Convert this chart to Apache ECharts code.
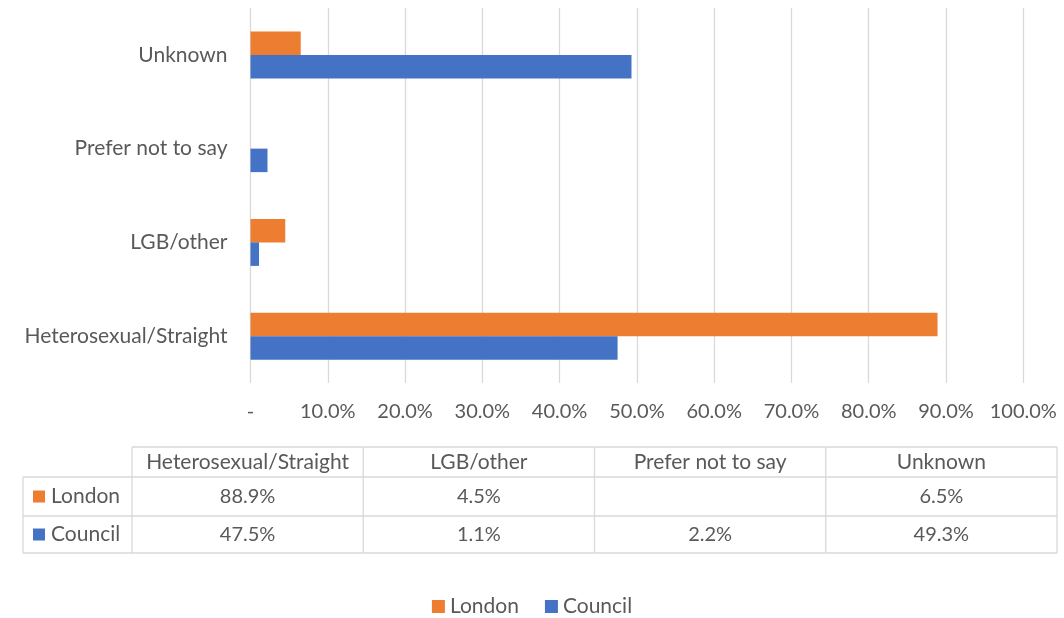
<!DOCTYPE html>
<html>
<head>
<meta charset="utf-8">
<script src="https://cdn.jsdelivr.net/npm/echarts@6/dist/echarts.min.js"></script>
<style>
html,body{margin:0;padding:0;background:#fff;}
#chart{width:1064px;height:618px;}
</style>
</head>
<body>
<div id="chart"></div>
<script>
var categories = ['Heterosexual/Straight', 'LGB/other', 'Prefer not to say', 'Unknown'];
var seriesNames = ['London', 'Council'];
var londonValues = [88.9, 4.5, null, 6.5];
var councilValues = [47.5, 1.1, 2.2, 49.3];
var tickValues = [0, 10, 20, 30, 40, 50, 60, 70, 80, 90, 100];
var colors = ['#ED7D31', '#4472C4'];

var FONT = 'Lato';
var TXT = '#595959';
var LINE = '#D9D9D9';
var FS = 21;
var FS_NUM = 20;

var chart = echarts.init(document.getElementById('chart'));

function fmt(v) { return v == null ? '' : v.toFixed(1) + '%'; }

// table layout
var tblLeft = 23, colStart = 132, tblRight = 1057;
var rowTops = [447, 477, 516, 553];
function buildTable() {
  var g = [];
  var nCol = categories.length;
  var colW = (tblRight - colStart) / nCol;
  var rows = [londonValues, councilValues];
  var ls = { stroke: LINE, lineWidth: 1.3 };
  g.push({ type: 'line', shape: { x1: colStart, y1: rowTops[0], x2: tblRight, y2: rowTops[0] }, style: ls });
  for (var r = 1; r < rowTops.length; r++) {
    g.push({ type: 'line', shape: { x1: tblLeft, y1: rowTops[r], x2: tblRight, y2: rowTops[r] }, style: ls });
  }
  g.push({ type: 'line', shape: { x1: tblLeft, y1: rowTops[1], x2: tblLeft, y2: rowTops[3] }, style: ls });
  for (var c = 0; c <= nCol; c++) {
    var x = colStart + c * colW;
    g.push({ type: 'line', shape: { x1: x, y1: rowTops[0], x2: x, y2: rowTops[3] }, style: ls });
  }
  for (var c2 = 0; c2 < nCol; c2++) {
    g.push({ type: 'text', x: colStart + (c2 + 0.5) * colW, y: (rowTops[0] + rowTops[1]) / 2,
      style: { text: categories[c2], fill: TXT, font: FS + 'px ' + FONT, textAlign: 'center', textVerticalAlign: 'middle' } });
  }
  for (var r2 = 0; r2 < rows.length; r2++) {
    var cy = (rowTops[r2 + 1] + rowTops[r2 + 2]) / 2;
    g.push({ type: 'rect', shape: { x: 33, y: cy - 6, width: 12, height: 12 }, style: { fill: colors[r2] } });
    g.push({ type: 'text', x: 51, y: cy,
      style: { text: seriesNames[r2], fill: TXT, font: FS + 'px ' + FONT, textAlign: 'left', textVerticalAlign: 'middle' } });
    for (var c3 = 0; c3 < nCol; c3++) {
      g.push({ type: 'text', x: colStart + (c3 + 0.5) * colW, y: cy,
        style: { text: fmt(rows[r2][c3]), fill: TXT, font: FS_NUM + 'px ' + FONT, textAlign: 'center', textVerticalAlign: 'middle' } });
    }
  }
  return g;
}

chart.setOption({
  animation: false,
  textStyle: { fontFamily: FONT },
  grid: { left: 250.5, right: 40.7, top: 8, bottom: 618 - 383, containLabel: false },
  legend: {
    data: seriesNames,
    top: 591,
    left: 'center',
    itemWidth: 13, itemHeight: 13, itemGap: 26,
    icon: 'rect',
    textStyle: { color: TXT, fontSize: FS, fontFamily: FONT }
  },
  xAxis: {
    type: 'value', min: 0, max: 100, interval: 10,
    axisLine: { show: false }, axisTick: { show: false },
    splitLine: { lineStyle: { color: LINE, width: 1.3 } },
    axisLabel: {
      color: TXT, fontSize: FS_NUM, fontFamily: FONT, margin: 19,
      formatter: function (v) { return v === 0 ? '-' : v.toFixed(1) + '%'; }
    }
  },
  yAxis: {
    type: 'category', data: categories,
    axisLine: { show: false }, axisTick: { show: false },
    axisLabel: { color: TXT, fontSize: FS, fontFamily: FONT, margin: 23 }
  },
  series: [
    { name: seriesNames[0], type: 'bar', data: londonValues, barWidth: 23.5, barGap: '0%', itemStyle: { color: colors[0] } },
    { name: seriesNames[1], type: 'bar', data: councilValues, barWidth: 23.5, barGap: '0%', itemStyle: { color: colors[1] } }
  ],
  graphic: buildTable()
});
</script>
</body>
</html>
